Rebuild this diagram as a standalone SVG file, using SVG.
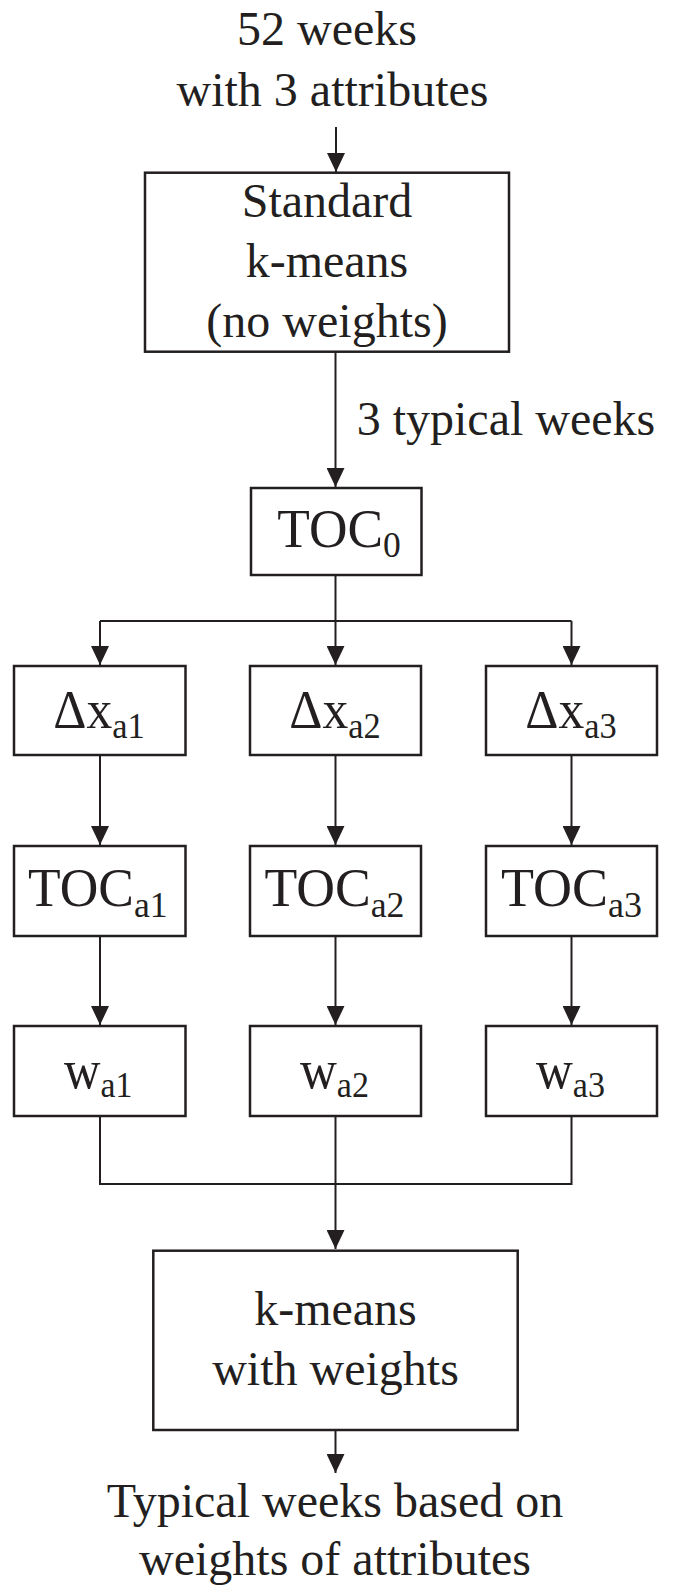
<svg xmlns="http://www.w3.org/2000/svg" width="677" height="1588" viewBox="0 0 677 1588">
<style>
  .t{font-family:"Liberation Serif","Times New Roman",serif;font-size:48px;fill:#231f20;text-anchor:middle}
  .m{font-family:"Liberation Serif","Times New Roman",serif;font-size:54px;fill:#231f20}
  .s{font-size:36px}
  .box{fill:#fff;stroke:#231f20;stroke-width:2.5}
  .ln{fill:none;stroke:#231f20;stroke-width:2}
</style>
<defs>
  <marker id="ah" markerWidth="19" markerHeight="18" refX="19" refY="9" orient="auto" markerUnits="userSpaceOnUse">
    <path d="M0,0 L19,9 L0,18 Z" fill="#231f20"/>
  </marker>
</defs>
<g id="connectors">
  <line class="ln" x1="336" y1="127" x2="336" y2="172" marker-end="url(#ah)"/>
  <line class="ln" x1="335.5" y1="352" x2="335.5" y2="487" marker-end="url(#ah)"/>
  <polyline class="ln" points="335.5,575 335.5,621"/>
  <polyline class="ln" points="100,621 571.5,621"/>
  <line class="ln" x1="100" y1="621" x2="100" y2="665" marker-end="url(#ah)"/>
  <line class="ln" x1="335.5" y1="621" x2="335.5" y2="665" marker-end="url(#ah)"/>
  <line class="ln" x1="571.5" y1="621" x2="571.5" y2="665" marker-end="url(#ah)"/>
  <line class="ln" x1="100" y1="755" x2="100" y2="845" marker-end="url(#ah)"/>
  <line class="ln" x1="335.5" y1="755" x2="335.5" y2="845" marker-end="url(#ah)"/>
  <line class="ln" x1="571.5" y1="755" x2="571.5" y2="845" marker-end="url(#ah)"/>
  <line class="ln" x1="100" y1="936" x2="100" y2="1025" marker-end="url(#ah)"/>
  <line class="ln" x1="335.5" y1="936" x2="335.5" y2="1025" marker-end="url(#ah)"/>
  <line class="ln" x1="571.5" y1="936" x2="571.5" y2="1025" marker-end="url(#ah)"/>
  <polyline class="ln" points="100,1116 100,1184 571.5,1184 571.5,1116"/>
  <line class="ln" x1="335.5" y1="1116" x2="335.5" y2="1249" marker-end="url(#ah)"/>
  <line class="ln" x1="335.5" y1="1430" x2="335.5" y2="1473" marker-end="url(#ah)"/>
  <text class="t" x="356.7" y="435" style="text-anchor:start">3 typical weeks</text>
</g>
<g id="input">
  <text class="t" x="327" y="45">52 weeks</text>
  <text class="t" x="332.5" y="106">with 3 attributes</text>
</g>
<g id="standard">
  <rect class="box" x="145" y="172.7" width="364" height="179"/>
  <text class="t" x="327" y="216.7">Standard</text>
  <text class="t" x="327" y="276.7">k-means</text>
  <text class="t" x="327" y="337">(no weights)</text>
</g>
<g id="toc0">
  <rect class="box" x="251" y="488" width="170.5" height="87"/>
  <text class="m" x="277.3" y="547.3" textLength="123.4" lengthAdjust="spacingAndGlyphs">TOC<tspan class="s" dy="10">0</tspan></text>
</g>
<g id="dx1">
  <rect class="box" x="14" y="666" width="171.5" height="89"/>
  <text class="m" x="53.3" y="728" textLength="91.4" lengthAdjust="spacingAndGlyphs">Δx<tspan class="s" dy="10">a1</tspan></text>
</g>
<g id="dx2">
  <rect class="box" x="250" y="666" width="171" height="89"/>
  <text class="m" x="289.3" y="728" textLength="91.4" lengthAdjust="spacingAndGlyphs">Δx<tspan class="s" dy="10">a2</tspan></text>
</g>
<g id="dx3">
  <rect class="box" x="486" y="666" width="171" height="89"/>
  <text class="m" x="525.3" y="728" textLength="91.4" lengthAdjust="spacingAndGlyphs">Δx<tspan class="s" dy="10">a3</tspan></text>
</g>
<g id="toc1">
  <rect class="box" x="14" y="846" width="171.5" height="90"/>
  <text class="m" x="28" y="906" textLength="139.5" lengthAdjust="spacingAndGlyphs">TOC<tspan class="s" dy="11">a1</tspan></text>
</g>
<g id="toc2">
  <rect class="box" x="250" y="846" width="171" height="90"/>
  <text class="m" x="264.5" y="906" textLength="140" lengthAdjust="spacingAndGlyphs">TOC<tspan class="s" dy="11">a2</tspan></text>
</g>
<g id="toc3">
  <rect class="box" x="486" y="846" width="171" height="90"/>
  <text class="m" x="501" y="906" textLength="141" lengthAdjust="spacingAndGlyphs">TOC<tspan class="s" dy="11">a3</tspan></text>
</g>
<g id="w1">
  <rect class="box" x="14" y="1026" width="171.5" height="90"/>
  <text class="m" x="64" y="1088.3" textLength="68.3" lengthAdjust="spacingAndGlyphs">w<tspan class="s" dy="8.5">a1</tspan></text>
</g>
<g id="w2">
  <rect class="box" x="250" y="1026" width="171" height="90"/>
  <text class="m" x="300" y="1088.3" textLength="69" lengthAdjust="spacingAndGlyphs">w<tspan class="s" dy="8.5">a2</tspan></text>
</g>
<g id="w3">
  <rect class="box" x="486" y="1026" width="171" height="90"/>
  <text class="m" x="536" y="1088.3" textLength="69" lengthAdjust="spacingAndGlyphs">w<tspan class="s" dy="8.5">a3</tspan></text>
</g>
<g id="kmeans">
  <rect class="box" x="153.3" y="1250.7" width="364.4" height="179.3"/>
  <text class="t" x="335.5" y="1325">k-means</text>
  <text class="t" x="335.5" y="1385">with weights</text>
</g>
<g id="output">
  <text class="t" x="335" y="1517">Typical weeks based on</text>
  <text class="t" x="335" y="1575">weights of attributes</text>
</g>
</svg>
